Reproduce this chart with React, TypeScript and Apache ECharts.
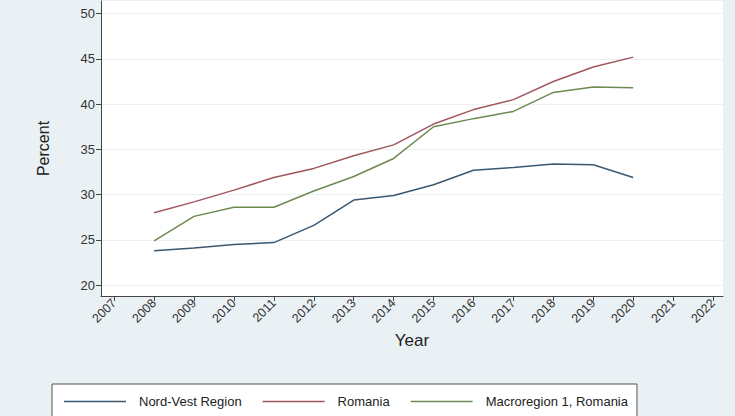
import React, { useEffect, useRef } from "react";
import * as echarts from "echarts";

const years = [2008, 2009, 2010, 2011, 2012, 2013, 2014, 2015, 2016, 2017, 2018, 2019, 2020];
const nordVest = [23.8, 24.1, 24.5, 24.7, 26.6, 29.4, 29.9, 31.1, 32.7, 33.0, 33.4, 33.3, 31.9];
const romania = [28.0, 29.2, 30.5, 31.9, 32.9, 34.3, 35.5, 37.8, 39.4, 40.5, 42.5, 44.1, 45.2];
const macro1 = [24.9, 27.6, 28.6, 28.6, 30.4, 32.0, 34.0, 37.5, 38.4, 39.2, 41.3, 41.9, 41.8];
const xTicks = [2007, 2008, 2009, 2010, 2011, 2012, 2013, 2014, 2015, 2016, 2017, 2018, 2019, 2020, 2021, 2022];
const yTicks = [20, 25, 30, 35, 40, 45, 50];
const seriesNames = ["Nord-Vest Region", "Romania", "Macroregion 1, Romania"];

const FONT = "'Liberation Sans', Arial, Helvetica, sans-serif";

export default function App() {
  const ref = useRef<HTMLDivElement>(null);
  useEffect(() => {
    if (!ref.current) return;
    const chart = echarts.init(ref.current, undefined, { renderer: "svg" });
    const pair = (vals: number[]) => years.map((y, i) => [y, vals[i]]);
    const colors = ["#3b5870", "#a0565c", "#6c8a52"];
    chart.setOption({
      animation: false,
      backgroundColor: "#eaf1f4",
      textStyle: { fontFamily: FONT },
      grid: {
        left: 101,
        right: 12,
        top: 1,
        bottom: 120,
        show: true,
        backgroundColor: "#ffffff",
        borderWidth: 0,
      },
      xAxis: {
        type: "value",
        min: 2006.67,
        max: 2022.25,
        name: "Year",
        nameLocation: "middle",
        nameGap: 33,
        nameTextStyle: { fontSize: 17, color: "#222", fontFamily: FONT },
        axisLine: { show: true, onZero: false, lineStyle: { color: "#444", width: 1 } },
        axisTick: { show: true, length: 5, lineStyle: { color: "#444" }, customValues: xTicks },
        axisLabel: {
          customValues: xTicks,
          rotate: 45,
          fontSize: 12.5,
          color: "#333",
          margin: 5,
          formatter: (v: number) => String(Math.round(v)),
        },
        splitLine: { show: false },
      },
      yAxis: {
        type: "value",
        min: 18.8,
        max: 51.4,
        name: "Percent",
        nameLocation: "middle",
        nameGap: 50,
        nameTextStyle: { fontSize: 16, color: "#222", fontFamily: FONT },
        axisLine: { show: true, lineStyle: { color: "#444", width: 1 } },
        axisTick: { show: true, length: 5, lineStyle: { color: "#444" }, customValues: yTicks },
        axisLabel: { customValues: yTicks, fontSize: 13, color: "#333", margin: 6 },
        splitLine: { show: true, lineStyle: { color: "#eef0f2", width: 1 } },
      },
      legend: {
        left: 52,
        top: 384,
        backgroundColor: "#ffffff",
        borderColor: "#555",
        borderWidth: 1,
        borderRadius: 0,
        padding: [11, 9, 20, 12],
        icon: "rect",
        itemWidth: 62,
        itemHeight: 1.5,
        itemGap: 21,
        textStyle: { fontSize: 13, color: "#222", fontFamily: FONT, padding: [0, 0, 0, 8] },
        data: seriesNames,
      },
      series: [
        { name: seriesNames[0], type: "line", data: pair(nordVest), symbol: "none", lineStyle: { color: colors[0], width: 1.5 }, itemStyle: { color: colors[0] } },
        { name: seriesNames[1], type: "line", data: pair(romania), symbol: "none", lineStyle: { color: colors[1], width: 1.5 }, itemStyle: { color: colors[1] } },
        { name: seriesNames[2], type: "line", data: pair(macro1), symbol: "none", lineStyle: { color: colors[2], width: 1.5 }, itemStyle: { color: colors[2] } },
      ],
    });
    return () => chart.dispose();
  }, []);
  return (
    <div
      ref={ref}
      style={{ position: "fixed", left: 0, top: 0, width: 735, height: 416 }}
    />
  );
}
